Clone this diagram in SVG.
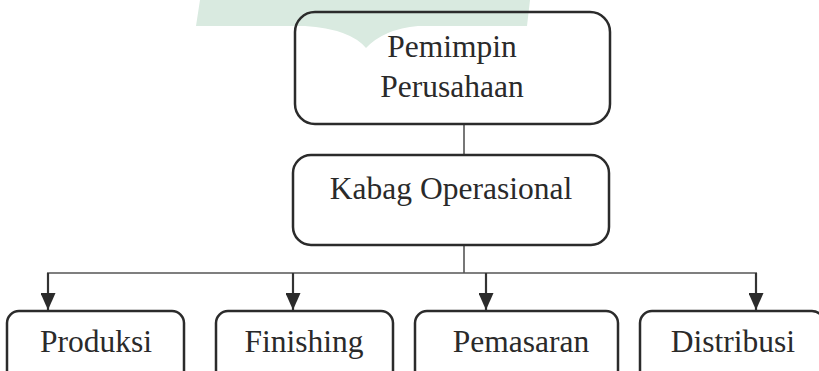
<svg xmlns="http://www.w3.org/2000/svg" width="819" height="371" viewBox="0 0 819 371">
  <style>
    .box { fill: none; stroke: #2b2b2b; stroke-width: 2.5; }
    .lbl { font-family: "Liberation Serif", "Times New Roman", serif; font-size: 31.5px; fill: #2a2a2a; text-anchor: middle; }
    .conn { fill: none; stroke: #555; stroke-width: 1.6; }
    .drop { fill: none; stroke: #333; stroke-width: 2.2; }
  </style>
  <defs>
    <marker id="arr" viewBox="0 0 17 15" refX="17" refY="7.5" markerWidth="17" markerHeight="15" markerUnits="userSpaceOnUse" orient="auto">
      <path d="M0,0 L17,7.5 L0,15 Z" fill="#2b2b2b"/>
    </marker>
  </defs>
  <rect width="819" height="371" fill="#ffffff"/>
  <g id="watermark">
    <path d="M200,0 L530,0 L527,26 L418,26 Q384,29 366,48 Q350,29 305,26 L196,26 Z" fill="#d9eae0"/>
  </g>
  <g id="connectors">
    <line class="conn" x1="464" y1="124" x2="464" y2="155"/>
    <line class="conn" x1="464" y1="245" x2="464" y2="273"/>
    <line class="conn" x1="47" y1="273" x2="757" y2="273"/>
    <line class="drop" x1="48" y1="273" x2="48" y2="310" marker-end="url(#arr)"/>
    <line class="drop" x1="293" y1="273" x2="293" y2="310" marker-end="url(#arr)"/>
    <line class="drop" x1="486" y1="273" x2="486" y2="310" marker-end="url(#arr)"/>
    <line class="drop" x1="756" y1="273" x2="756" y2="310" marker-end="url(#arr)"/>
  </g>
  <g id="pemimpin">
    <rect class="box" x="295" y="12" width="315" height="112" rx="20"/>
    <text class="lbl" x="452" y="57">Pemimpin</text>
    <text class="lbl" x="452" y="97">Perusahaan</text>
  </g>
  <g id="kabag">
    <rect class="box" x="293" y="155" width="316" height="90" rx="18"/>
    <text class="lbl" x="451" y="199">Kabag Operasional</text>
  </g>
  <g id="produksi">
    <rect class="box" x="7" y="311" width="177" height="80" rx="12"/>
    <text class="lbl" x="96" y="352">Produksi</text>
  </g>
  <g id="finishing">
    <rect class="box" x="216" y="311" width="177" height="80" rx="12"/>
    <text class="lbl" x="304" y="352">Finishing</text>
  </g>
  <g id="pemasaran">
    <rect class="box" x="415" y="311" width="203" height="80" rx="12"/>
    <text class="lbl" x="521" y="352">Pemasaran</text>
  </g>
  <g id="distribusi">
    <rect class="box" x="640" y="311" width="184" height="80" rx="12"/>
    <text class="lbl" x="733" y="352">Distribusi</text>
  </g>
</svg>
